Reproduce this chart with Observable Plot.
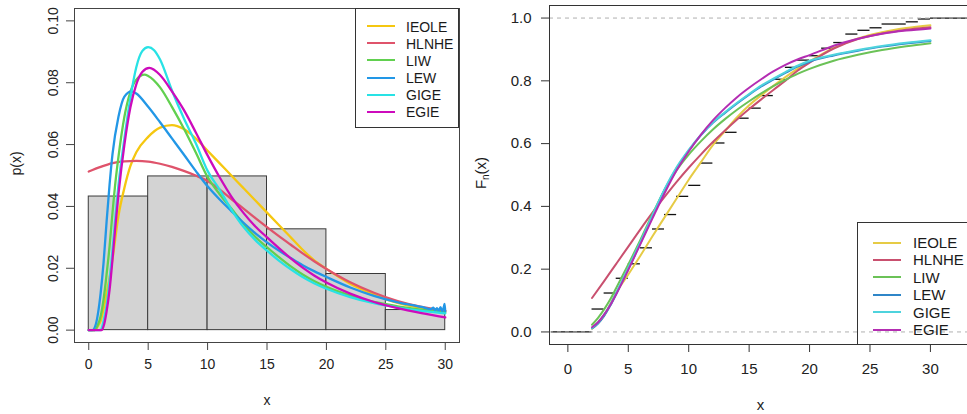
<!DOCTYPE html>
<html><head><meta charset="utf-8">
<script src="https://cdn.jsdelivr.net/npm/d3@7"></script>
<script src="https://cdn.jsdelivr.net/npm/@observablehq/plot@0.6"></script>
<style>
html,body{margin:0;padding:0;background:#fff;overflow:hidden;width:967px;height:414px}
#wrap{position:relative;width:967px;height:414px;overflow:hidden;font-family:"Liberation Sans",Arial,sans-serif;color:#1a1a1a}
#left{position:absolute;left:0;top:0;width:480px;height:414px}
#right{position:absolute;left:480px;top:0;width:500px;height:414px}
#left svg,#right svg{max-width:none !important;display:block}
.legend{position:absolute;border:1px solid #333;box-sizing:border-box}
.key{position:absolute;height:0}
.lab{position:absolute;white-space:nowrap;line-height:1}
#fnlab{position:absolute;left:482px;top:173px;transform:translate(-50%,-50%) rotate(-90deg);font-size:15px;white-space:nowrap;line-height:1}
#fnlab sub{font-size:10px;vertical-align:-3px}
</style></head><body><div id="wrap"><div id="left"></div><div id="right"></div></div>
<script>
// ---------- data ----------
const series = ["IEOLE", "HLNHE", "LIW", "LEW", "GIGE", "EGIE"];
const colorsLeft = ["#F5C710", "#DF536B", "#61D04F", "#2297E6", "#28E2E5", "#CD0BBC"];
const colorsRight = ["#E6CB45", "#C9506F", "#6BC257", "#2F86C8", "#4ED3DD", "#B42DB2"];

const xTicks = [0, 5, 10, 15, 20, 25, 30];
const yTicksLeft = [0, 0.02, 0.04, 0.06, 0.08, 0.10];
const yTicksRight = [0, 0.2, 0.4, 0.6, 0.8, 1.0];

// histogram (density scale)
const binStart = [0, 5, 10, 15, 20, 25];
const binEnd = [5, 10, 15, 20, 25, 30];
const binDensity = [0.0432, 0.0497, 0.0497, 0.0326, 0.01815, 0.0065];

// fitted densities [x, p(x)]
const pdfIEOLE = [[0,0],[0.5,0],[0.8,0.0015],[1.0,0.003],[1.25,0.007],[1.5,0.012],[1.75,0.017],[2.0,0.023],[2.5,0.037],[3.0,0.046],[3.5,0.053],[4,0.0575],[5,0.0625],[6,0.0655],[7,0.0663],[8,0.065],[9,0.062],[10,0.058],[11,0.054],[12,0.050],[13,0.046],[14,0.042],[15,0.038],[16,0.034],[17,0.030],[18,0.026],[19,0.0225],[20,0.0198],[22,0.0150],[24,0.0115],[26,0.0088],[28,0.0072],[30,0.0062]];
const pdfHLNHE = [[0,0.0513],[1,0.0528],[2,0.0540],[3,0.0546],[4,0.0547],[5,0.0545],[6,0.0538],[7,0.0528],[8,0.0515],[9,0.0500],[10,0.0482],[11,0.0455],[12,0.0424],[13,0.0394],[14,0.0363],[15,0.0333],[16,0.0304],[17,0.0276],[18,0.0248],[19,0.0222],[20,0.0198],[22,0.0155],[24,0.0121],[26,0.0094],[28,0.0075],[30,0.0062]];
const pdfLIW = [[0,0],[0.5,0],[0.8,0.002],[1.0,0.0045],[1.25,0.010],[1.5,0.018],[1.75,0.027],[2.0,0.038],[2.25,0.048],[2.5,0.056],[3.0,0.069],[3.5,0.077],[4.0,0.081],[4.7,0.0826],[5,0.0822],[6,0.0785],[7,0.0722],[8,0.0652],[9,0.0575],[10,0.0495],[11,0.0440],[12,0.0393],[13,0.0345],[14,0.0302],[15,0.0268],[16,0.0236],[17,0.0206],[18,0.0180],[19,0.0158],[20,0.0140],[22,0.0112],[24,0.0091],[26,0.0077],[28,0.0066],[30,0.0057]];
const pdfLEW = [[0,0],[0.3,0],[0.6,0.002],[0.8,0.006],[1.0,0.012],[1.25,0.022],[1.5,0.035],[1.75,0.047],[2.0,0.057],[2.5,0.069],[3.0,0.0755],[3.6,0.0772],[4,0.0765],[5,0.0722],[6,0.0672],[7,0.062],[8,0.0568],[9,0.0515],[10,0.0465],[11,0.0423],[12,0.0385],[13,0.0348],[14,0.0314],[15,0.0284],[16,0.0257],[17,0.0233],[18,0.0210],[19,0.0190],[20,0.0172],[22,0.0138],[24,0.0111],[26,0.0090],[28,0.0075],[28.8,0.0068],[29.0,0.0073],[29.15,0.0064],[29.3,0.0071],[29.45,0.0062],[29.6,0.0074],[29.75,0.0061],[29.9,0.0078],[29.95,0.0085],[30,0.0060]];
const pdfGIGE = [[0,0],[1.0,0],[1.25,0.003],[1.5,0.008],[1.75,0.016],[2.0,0.026],[2.25,0.037],[2.5,0.047],[3.0,0.062],[3.5,0.075],[4.0,0.0850],[4.5,0.0902],[5.0,0.0915],[5.5,0.0905],[6,0.0875],[7,0.0775],[8,0.0685],[9,0.0605],[10,0.0515],[11,0.0455],[12,0.0390],[13,0.0335],[14,0.0292],[15,0.0257],[16,0.0225],[17,0.0197],[18,0.0172],[19,0.0151],[20,0.0134],[22,0.0107],[24,0.0087],[26,0.0073],[28,0.0062],[30,0.0054]];
const pdfEGIE = [[0,0],[1.1,0],[1.3,0.002],[1.5,0.006],[1.75,0.013],[2.0,0.023],[2.25,0.034],[2.5,0.044],[3.0,0.060],[3.5,0.072],[4.0,0.0795],[4.5,0.0835],[5.1,0.0848],[6,0.0825],[7,0.0772],[8,0.0712],[9,0.0640],[10,0.0565],[11,0.0495],[12,0.0432],[13,0.0380],[14,0.0336],[15,0.0300],[16,0.0265],[17,0.0232],[18,0.0202],[19,0.0176],[20,0.0154],[22,0.0118],[24,0.0091],[26,0.0071],[28,0.0055],[30,0.0041]];

// fitted CDFs [x, F(x)]
const cdfIEOLE = [[2,0.010],[2.5,0.028],[3,0.052],[3.5,0.088],[4,0.125],[5,0.183],[6,0.243],[7,0.305],[8,0.365],[9,0.425],[10,0.485],[11,0.540],[12,0.595],[13,0.640],[14,0.684],[15,0.722],[16,0.754],[17,0.784],[18,0.812],[19,0.838],[20,0.862],[22,0.905],[24,0.935],[26,0.955],[28,0.968],[30,0.977]];
const cdfHLNHE = [[2,0.108],[3,0.162],[4,0.217],[5,0.272],[6,0.327],[7,0.380],[8,0.430],[9,0.478],[10,0.523],[11,0.565],[12,0.605],[13,0.642],[14,0.677],[15,0.710],[16,0.741],[17,0.771],[18,0.800],[19,0.832],[20,0.858],[22,0.903],[24,0.933],[26,0.951],[28,0.963],[30,0.971]];
const cdfLIW = [[2,0.023],[2.5,0.045],[3,0.072],[3.5,0.103],[4,0.140],[5,0.215],[6,0.293],[7,0.375],[8,0.452],[9,0.515],[10,0.565],[11,0.607],[12,0.645],[13,0.678],[14,0.708],[15,0.735],[16,0.760],[17,0.783],[18,0.803],[19,0.822],[20,0.838],[22,0.864],[24,0.883],[26,0.898],[28,0.910],[30,0.920]];
const cdfLEW = [[2,0.011],[2.5,0.027],[3,0.051],[3.5,0.083],[4,0.121],[5,0.200],[6,0.283],[7,0.368],[8,0.452],[9,0.522],[10,0.578],[11,0.626],[12,0.666],[13,0.698],[14,0.728],[15,0.756],[16,0.782],[17,0.804],[18,0.825],[19,0.845],[20,0.861],[22,0.881],[24,0.896],[26,0.909],[28,0.919],[30,0.927]];
const cdfGIGE = [[2,0.013],[2.5,0.030],[3,0.055],[3.5,0.087],[4,0.125],[5,0.205],[6,0.287],[7,0.372],[8,0.455],[9,0.525],[10,0.580],[11,0.628],[12,0.668],[13,0.700],[14,0.730],[15,0.758],[16,0.785],[17,0.807],[18,0.828],[19,0.848],[20,0.864],[22,0.883],[24,0.898],[26,0.911],[28,0.921],[30,0.929]];
const cdfEGIE = [[2,0.015],[2.5,0.031],[3,0.055],[3.5,0.085],[4,0.120],[5,0.198],[6,0.280],[7,0.362],[8,0.442],[9,0.515],[10,0.575],[11,0.628],[12,0.674],[13,0.713],[14,0.748],[15,0.778],[16,0.805],[17,0.830],[18,0.851],[19,0.868],[20,0.882],[22,0.912],[24,0.934],[26,0.950],[28,0.960],[30,0.967]];

// empirical CDF: step starts and levels (first level 0 starts at left edge, last runs off right)
const ecdfStart = [-1.35, 2, 3, 4, 5, 6, 7, 8, 9, 10, 11, 12, 13, 14, 15, 16, 17, 18, 19, 20, 21, 22, 23, 24, 25, 26, 28, 29, 30];
const ecdfLevel = [0, 0.073, 0.124, 0.171, 0.217, 0.268, 0.328, 0.374, 0.432, 0.467, 0.538, 0.602, 0.636, 0.681, 0.713, 0.753, 0.805, 0.843, 0.866, 0.880, 0.904, 0.922, 0.949, 0.961, 0.969, 0.981, 0.988, 0.997, 1.0];
const ecdfEnd = 34;

// ---------- build tables ----------
const pdfs = [pdfIEOLE, pdfHLNHE, pdfLIW, pdfLEW, pdfGIGE, pdfEGIE];
const cdfs = [cdfIEOLE, cdfHLNHE, cdfLIW, cdfLEW, cdfGIGE, cdfEGIE];
const pdfRows = pdfs.flatMap((arr, i) => arr.map(([x, y]) => ({series: series[i], x, y})));
const cdfRows = cdfs.flatMap((arr, i) => arr.map(([x, y]) => ({series: series[i], x, y})));
const bins = binStart.map((s, i) => ({x1: s, x2: binEnd[i], d: binDensity[i]}));
const steps = ecdfStart.map((s, i) => ({x1: s, x2: i + 1 < ecdfStart.length ? ecdfStart[i + 1] : ecdfEnd, F: ecdfLevel[i]}));

const font = "Liberation Sans, Arial, sans-serif";

// ---------- left: histogram + densities ----------
const left = Plot.plot({
  width: 480, height: 414,
  marginLeft: 74, marginRight: 21, marginTop: 8, marginBottom: 72,
  x: {domain: [-1.2, 31.2]},
  y: {domain: [-0.004, 0.104]},
  color: {domain: series, range: colorsLeft},
  style: {fontFamily: font, fontSize: "14px", color: "#222", background: "#fff"},
  marks: [
    Plot.rect(bins, {x1: "x1", x2: "x2", y1: 0, y2: "d", fill: "#D3D3D3", stroke: "#3a3a3a", strokeWidth: 1}),
    Plot.line(pdfRows, {x: "x", y: "y", z: "series", stroke: "series", strokeWidth: 2.3, curve: "monotone-x"}),
    Plot.frame({stroke: "#444"}),
    Plot.axisX({ticks: xTicks, tickSize: 8, tickPadding: 9, tickFormat: d => String(d), label: null, stroke: "#444"}),
    Plot.axisY({ticks: yTicksLeft, tickSize: 8, tickPadding: 9, tickRotate: -90, tickFormat: d3.format(".2f"), label: null, stroke: "#444"}),
    Plot.text(["x"], {frameAnchor: "bottom", dy: 62, fontSize: 14}),
    Plot.text(["p(x)"], {frameAnchor: "left", rotate: -90, dx: -58, fontSize: 14})
  ]
});
document.getElementById("left").append(left);

// ---------- right: ECDF + fitted CDFs ----------
const right = Plot.plot({
  width: 500, height: 414,
  marginLeft: 69, marginRight: 9, marginTop: 5, marginBottom: 70,
  x: {domain: [-1.52, 33.4]},
  y: {domain: [-0.04, 1.04]},
  color: {domain: series, range: colorsRight},
  style: {fontFamily: font, fontSize: "15px", color: "#222", background: "#fff"},
  marks: [
    Plot.ruleY(steps, {y: "F", x1: "x1", x2: "x2", stroke: "#111", strokeWidth: 1.3}),
    Plot.line(cdfRows, {x: "x", y: "y", z: "series", stroke: "series", strokeWidth: 2, curve: "monotone-x"}),
    Plot.ruleY([0, 1], {stroke: "#b0b0b0", strokeWidth: 1, strokeDasharray: "4,4"}),
    Plot.frame({stroke: "#333"}),
    Plot.axisX({ticks: xTicks, tickSize: 8, tickPadding: 11, tickFormat: d => String(d), label: null, stroke: "#333"}),
    Plot.axisY({ticks: yTicksRight, tickSize: 8, tickPadding: 10, tickFormat: d3.format(".1f"), label: null, stroke: "#333"}),
    Plot.text(["x"], {frameAnchor: "bottom", dy: 65, fontSize: 15})
  ]
});
document.getElementById("right").append(right);

// ---------- legends ----------
function legend(box, colors, fontSize, lineW) {
  const wrap = document.getElementById("wrap");
  const div = document.createElement("div");
  div.className = "legend";
  Object.assign(div.style, {left: box.x + "px", top: box.y + "px", width: box.w + "px", height: box.h + "px"});
  wrap.append(div);
  series.forEach((s, i) => {
    const cy = box.row0 + i * box.step;
    const k = document.createElement("div");
    k.className = "key";
    Object.assign(k.style, {left: (box.kx - box.x) + "px", top: (cy - box.y - lineW / 2) + "px", width: box.kw + "px", borderTop: lineW + "px solid " + colors[i]});
    div.append(k);
    const t = document.createElement("div");
    t.className = "lab";
    t.textContent = s;
    Object.assign(t.style, {left: (box.tx - box.x) + "px", top: (cy - box.y - fontSize * 0.5) + "px", fontSize: fontSize + "px"});
    div.append(t);
  });
}
legend({x: 355, y: 8, w: 104, h: 120, kx: 366, kw: 28, tx: 405, row0: 25.5, step: 17.1}, colorsLeft, 14, 2.6);
legend({x: 857, y: 222, w: 114, h: 123, kx: 872, kw: 28, tx: 912, row0: 241.5, step: 17.4}, colorsRight, 15, 2);

// F_n(x) label with subscript
const fn = document.createElement("div");
fn.id = "fnlab";
fn.innerHTML = "F<sub>n</sub>(x)";
document.getElementById("wrap").append(fn);
</script>
</body></html>
